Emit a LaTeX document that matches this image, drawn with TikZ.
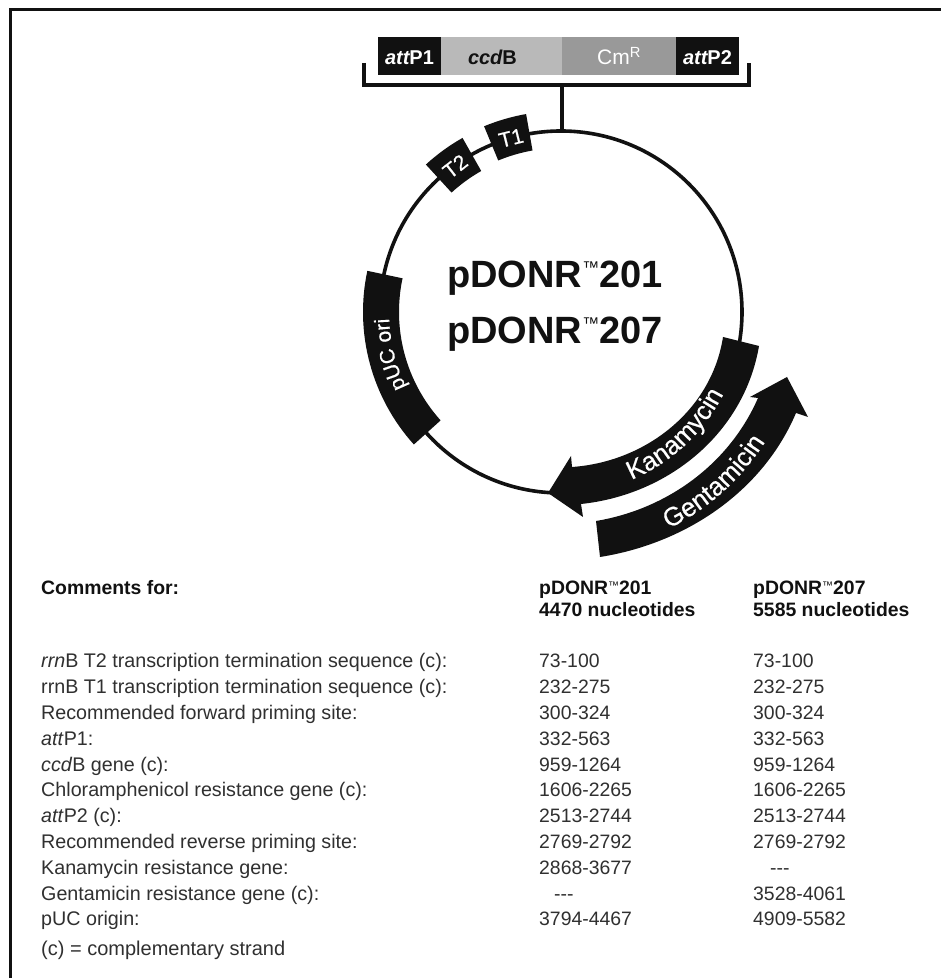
\documentclass[tikz,border=0pt]{standalone}
\usepackage{fontspec}
\setmainfont{Liberation Sans}
\newfontfamily\heavyfam[FakeBold=0.5]{Liberation Sans}
\usetikzlibrary{decorations.text}
\definecolor{ink}{HTML}{111111}
\definecolor{txt}{HTML}{303030}
\definecolor{lgray}{HTML}{B9B9B9}
\definecolor{mgray}{HTML}{999999}
\newcommand{\fs}[1]{\fontsize{#1}{#1}\selectfont}
\newcommand{\bandfont}{\heavyfam\fs{26}\color{white}}
\newcommand{\tmk}{\raisebox{14pt}{\mdseries\fs{17}™}}
\tikzset{
  segbox/.style={inner sep=0pt,minimum height=38pt,text height=18pt,text depth=0pt,font=\fs{20}},
  band/.style={fill=ink,draw=none},
  rowtext/.style={anchor=base west,inner sep=0pt,text=txt,font=\fs{19.7}},
  numtext/.style={anchor=base west,inner sep=0pt,text=txt,font=\fs{19.4}},
  headtext/.style={anchor=base west,inner sep=0pt,text=ink,font=\bfseries\fs{19.4}},
  titletext/.style={anchor=base west,inner sep=0pt,text=ink,font=\bfseries\fs{38}},
  tlabel/.style={inner sep=0pt,text=white,font=\heavyfam\fs{21}}
}
\begin{document}
\begin{tikzpicture}[x=1pt,y=1pt]
\useasboundingbox (0,0) rectangle (941,978);
\fill[white] (0,0) rectangle (941,978);
% frame
\draw[line width=2.6pt,draw=ink] (10.3,0) -- (10.3,968.5) -- (941,968.5);
% top cassette
\node[segbox,fill=ink,text=white,minimum width=63pt] (p1) at (409.5,922) {\bfseries\itshape att\upshape P1};
\node[segbox,fill=lgray,text=ink,minimum width=121pt] (ccd) at (501.5,922) {\makebox[121pt][l]{\hspace*{27pt}\bfseries\itshape ccd\upshape B}};
\node[segbox,fill=mgray,text=white,minimum width=114pt,font=\fs{21}] (cm) at (619,922) {Cm\textsuperscript{R}};
\node[segbox,fill=ink,text=white,minimum width=63pt] (p2) at (707.5,922) {\bfseries\itshape att\upshape P2};
% bracket and stem
\coordinate (brL) at (364,915);
\coordinate (brR) at (749,915);
\coordinate (stemTop) at (562,893);
\coordinate (stemBot) at (562,848);
\draw[line width=3.6pt,draw=ink] (brL) |- (brR |- stemTop) -- (brR);
\draw[line width=3.6pt,draw=ink] (stemTop) -- (stemBot);
% plasmid
\begin{scope}[shift={(561,666)}]
\draw[line width=3.6pt,draw=ink] (0,0) circle[radius=181pt];
% T1, T2
\fill[band] (100:201pt) arc[start angle=100,end angle=112.5,radius=201pt] -- (112.5:164pt) arc[start angle=112.5,end angle=100,radius=164pt] -- cycle;
\fill[band] (119.5:200pt) arc[start angle=119.5,end angle=132.5,radius=200pt] -- (132.5:162pt) arc[start angle=132.5,end angle=119.5,radius=162pt] -- cycle;
\node[tlabel,rotate=14] (t1) at (106:181pt) {T1};
\node[tlabel,rotate=38] (t2) at (126:180pt) {T2};
% pUC ori
\fill[band] (168:198pt) arc[start angle=168,end angle=222,radius=198pt] -- (222:162pt) arc[start angle=222,end angle=168,radius=162pt] -- cycle;
\path[decorate,decoration={text along path,text align=center,text={|\heavyfam\fs{21}\color{white}|pUC ori}}] (222:172pt) arc[start angle=222,end angle=166,radius=172pt];
% Kanamycin arrow
\fill[band] (198,-34) to[out=-99.7,in=6,looseness=.95] (20,-192) -- (22,-205) -- (-13,-181) -- (10,-144) -- (11,-155) to[out=4,in=261.2,looseness=.95] (162,-25) -- cycle;
\path[decorate,decoration={text along path,text align=center,text={|\bandfont|Kanamycin}}] (-85:182pt) arc[start angle=-85,end angle=-9,radius=182pt];
% Gentamicin arrow
\fill[band] (35,-209) to[out=9.5,in=246.4,looseness=.906] (197,-86) -- (189,-85) -- (226,-65) -- (247,-105) -- (235,-101) to[out=-113,in=9,looseness=.906] (39,-245) -- cycle;
\path[decorate,decoration={text along path,text align=center,text={|\bandfont|Gentamicin}}] (-79:242pt) arc[start angle=-79,end angle=-17,radius=242pt];
\end{scope}
% title
\node[titletext] (title1) at (447,690) {pDONR\tmk 201};
\node[titletext] (title2) at (447,634) {pDONR\tmk 207};
% table heading
\node[headtext] (hc) at (41,383) {Comments for:};
\node[headtext] (h1a) at (539,383) {pDONR\raisebox{5pt}{\mdseries\fs{11}™}201};
\node[headtext] (h1b) at (539,361) {4470 nucleotides};
\node[headtext] (h2a) at (753,383) {pDONR\raisebox{5pt}{\mdseries\fs{11}™}207};
\node[headtext] (h2b) at (753,361) {5585 nucleotides};
% table rows
\foreach \i/\ta/\tb/\tc in {
 0/{\textit{rrn}B T2 transcription termination sequence (c):}/{73-100}/{73-100},
 1/{rrnB T1 transcription termination sequence (c):}/{232-275}/{232-275},
 2/{Recommended forward priming site:}/{300-324}/{300-324},
 3/{\textit{att}P1:}/{332-563}/{332-563},
 4/{\textit{ccd}B gene (c):}/{959-1264}/{959-1264},
 5/{Chloramphenicol resistance gene (c):}/{1606-2265}/{1606-2265},
 6/{\textit{att}P2 (c):}/{2513-2744}/{2513-2744},
 7/{Recommended reverse priming site:}/{2769-2792}/{2769-2792},
 8/{Kanamycin resistance gene:}/{2868-3677}/{\hspace*{17pt}-{}-{}-},
 9/{Gentamicin resistance gene (c):}/{\hspace*{15pt}-{}-{}-}/{3528-4061},
 10/{pUC origin:}/{3794-4467}/{4909-5582}}{
  \pgfmathsetmacro{\yy}{978-668-25.8*\i}
  \node[rowtext] (ra\i) at (41,\yy) {\ta};
  \node[numtext] (rb\i) at (539,\yy) {\tb};
  \node[numtext] (rc\i) at (753,\yy) {\tc};
}
\node[rowtext,font=\fs{20}] (note) at (41,22) {(c) = complementary strand};
\end{tikzpicture}
\end{document}
